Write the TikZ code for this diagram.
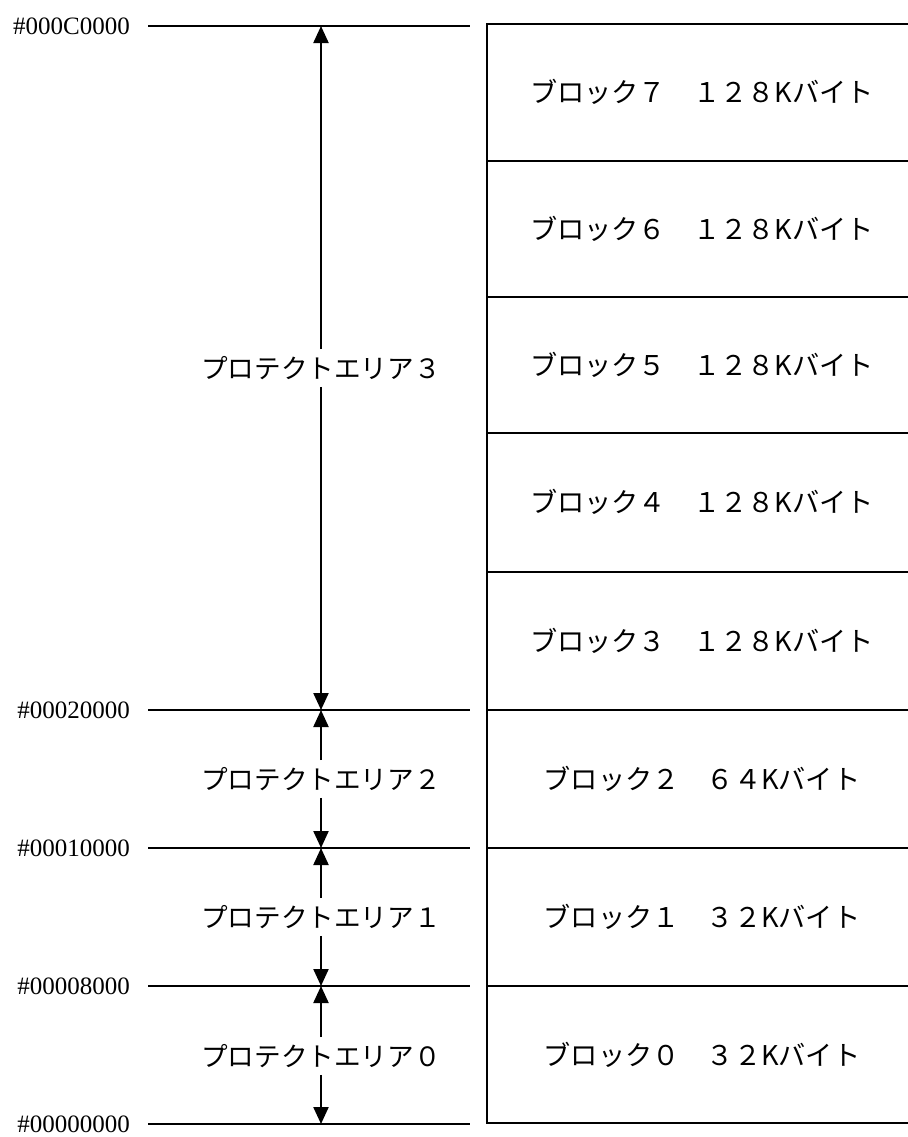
\documentclass[tikz,border=0pt]{standalone}
\usepackage{fontspec}
\setmainfont{Liberation Serif}
\newfontfamily\jpfont{Noto Sans CJK JP}
\usetikzlibrary{arrows.meta}

\begin{document}
\begin{tikzpicture}[x=0.5pt, y=-0.5pt, line width=1.1pt,
        addr/.style={anchor=east, inner xsep=8.5pt, inner ysep=0pt, font=\fontsize{12.5}{14}\selectfont},
        area/.style={inner xsep=1pt, inner ysep=3pt, font=\jpfont\fontsize{13.3}{15}\selectfont},
        blk/.style={font=\jpfont\fontsize{13.6}{15}\selectfont},
        tip/.style={-{Triangle[length=8.5pt, width=7.5pt]}}]

        \useasboundingbox (0,0) rectangle (908,1137);

        % addresses and their lines
        \foreach \n/\y/\t in {0/1124/00000000, 1/986/00008000, 2/848/00010000, 3/710/00020000, 4/26/000C0000} {
            \node[addr] (a\n) at (148,\y) {\#\t};
            \coordinate (e\n) at (470,\y);
            \coordinate (m\n) at (321,\y);
            \draw (a\n.east) -- (e\n);
        }

        % protect areas
        \node[area] (p3) at (321,368) {プロテクトエリア３};
        \node[area] (p2) at (321,779) {プロテクトエリア２};
        \node[area] (p1) at (321,917) {プロテクトエリア１};
        \node[area] (p0) at (321,1056) {プロテクトエリア０};
        \foreach \i/\j in {0/1, 1/2, 2/3, 3/4} {
            \draw[tip] (p\i) -- (m\i);
            \draw[tip] (p\i) -- (m\j);
        }

        % blocks
        \draw (908,24) -- (487,24) -- (487,1123) -- (908,1123);
        \foreach \y in {161, 297, 433, 572, 710, 848, 986}
            \draw (487,\y) -- (908,\y);

        \node[blk] (b7) at (702,92) {ブロック７　１２８Kバイト};
        \node[blk] (b6) at (702,229) {ブロック６　１２８Kバイト};
        \node[blk] (b5) at (702,365) {ブロック５　１２８Kバイト};
        \node[blk] (b4) at (702,502) {ブロック４　１２８Kバイト};
        \node[blk] (b3) at (702,641) {ブロック３　１２８Kバイト};
        \node[blk] (b2) at (702,779) {ブロック２　６４Kバイト};
        \node[blk] (b1) at (702,917) {ブロック１　３２Kバイト};
        \node[blk] (b0) at (702,1055) {ブロック０　３２Kバイト};

    \end{tikzpicture}
\end{document}
